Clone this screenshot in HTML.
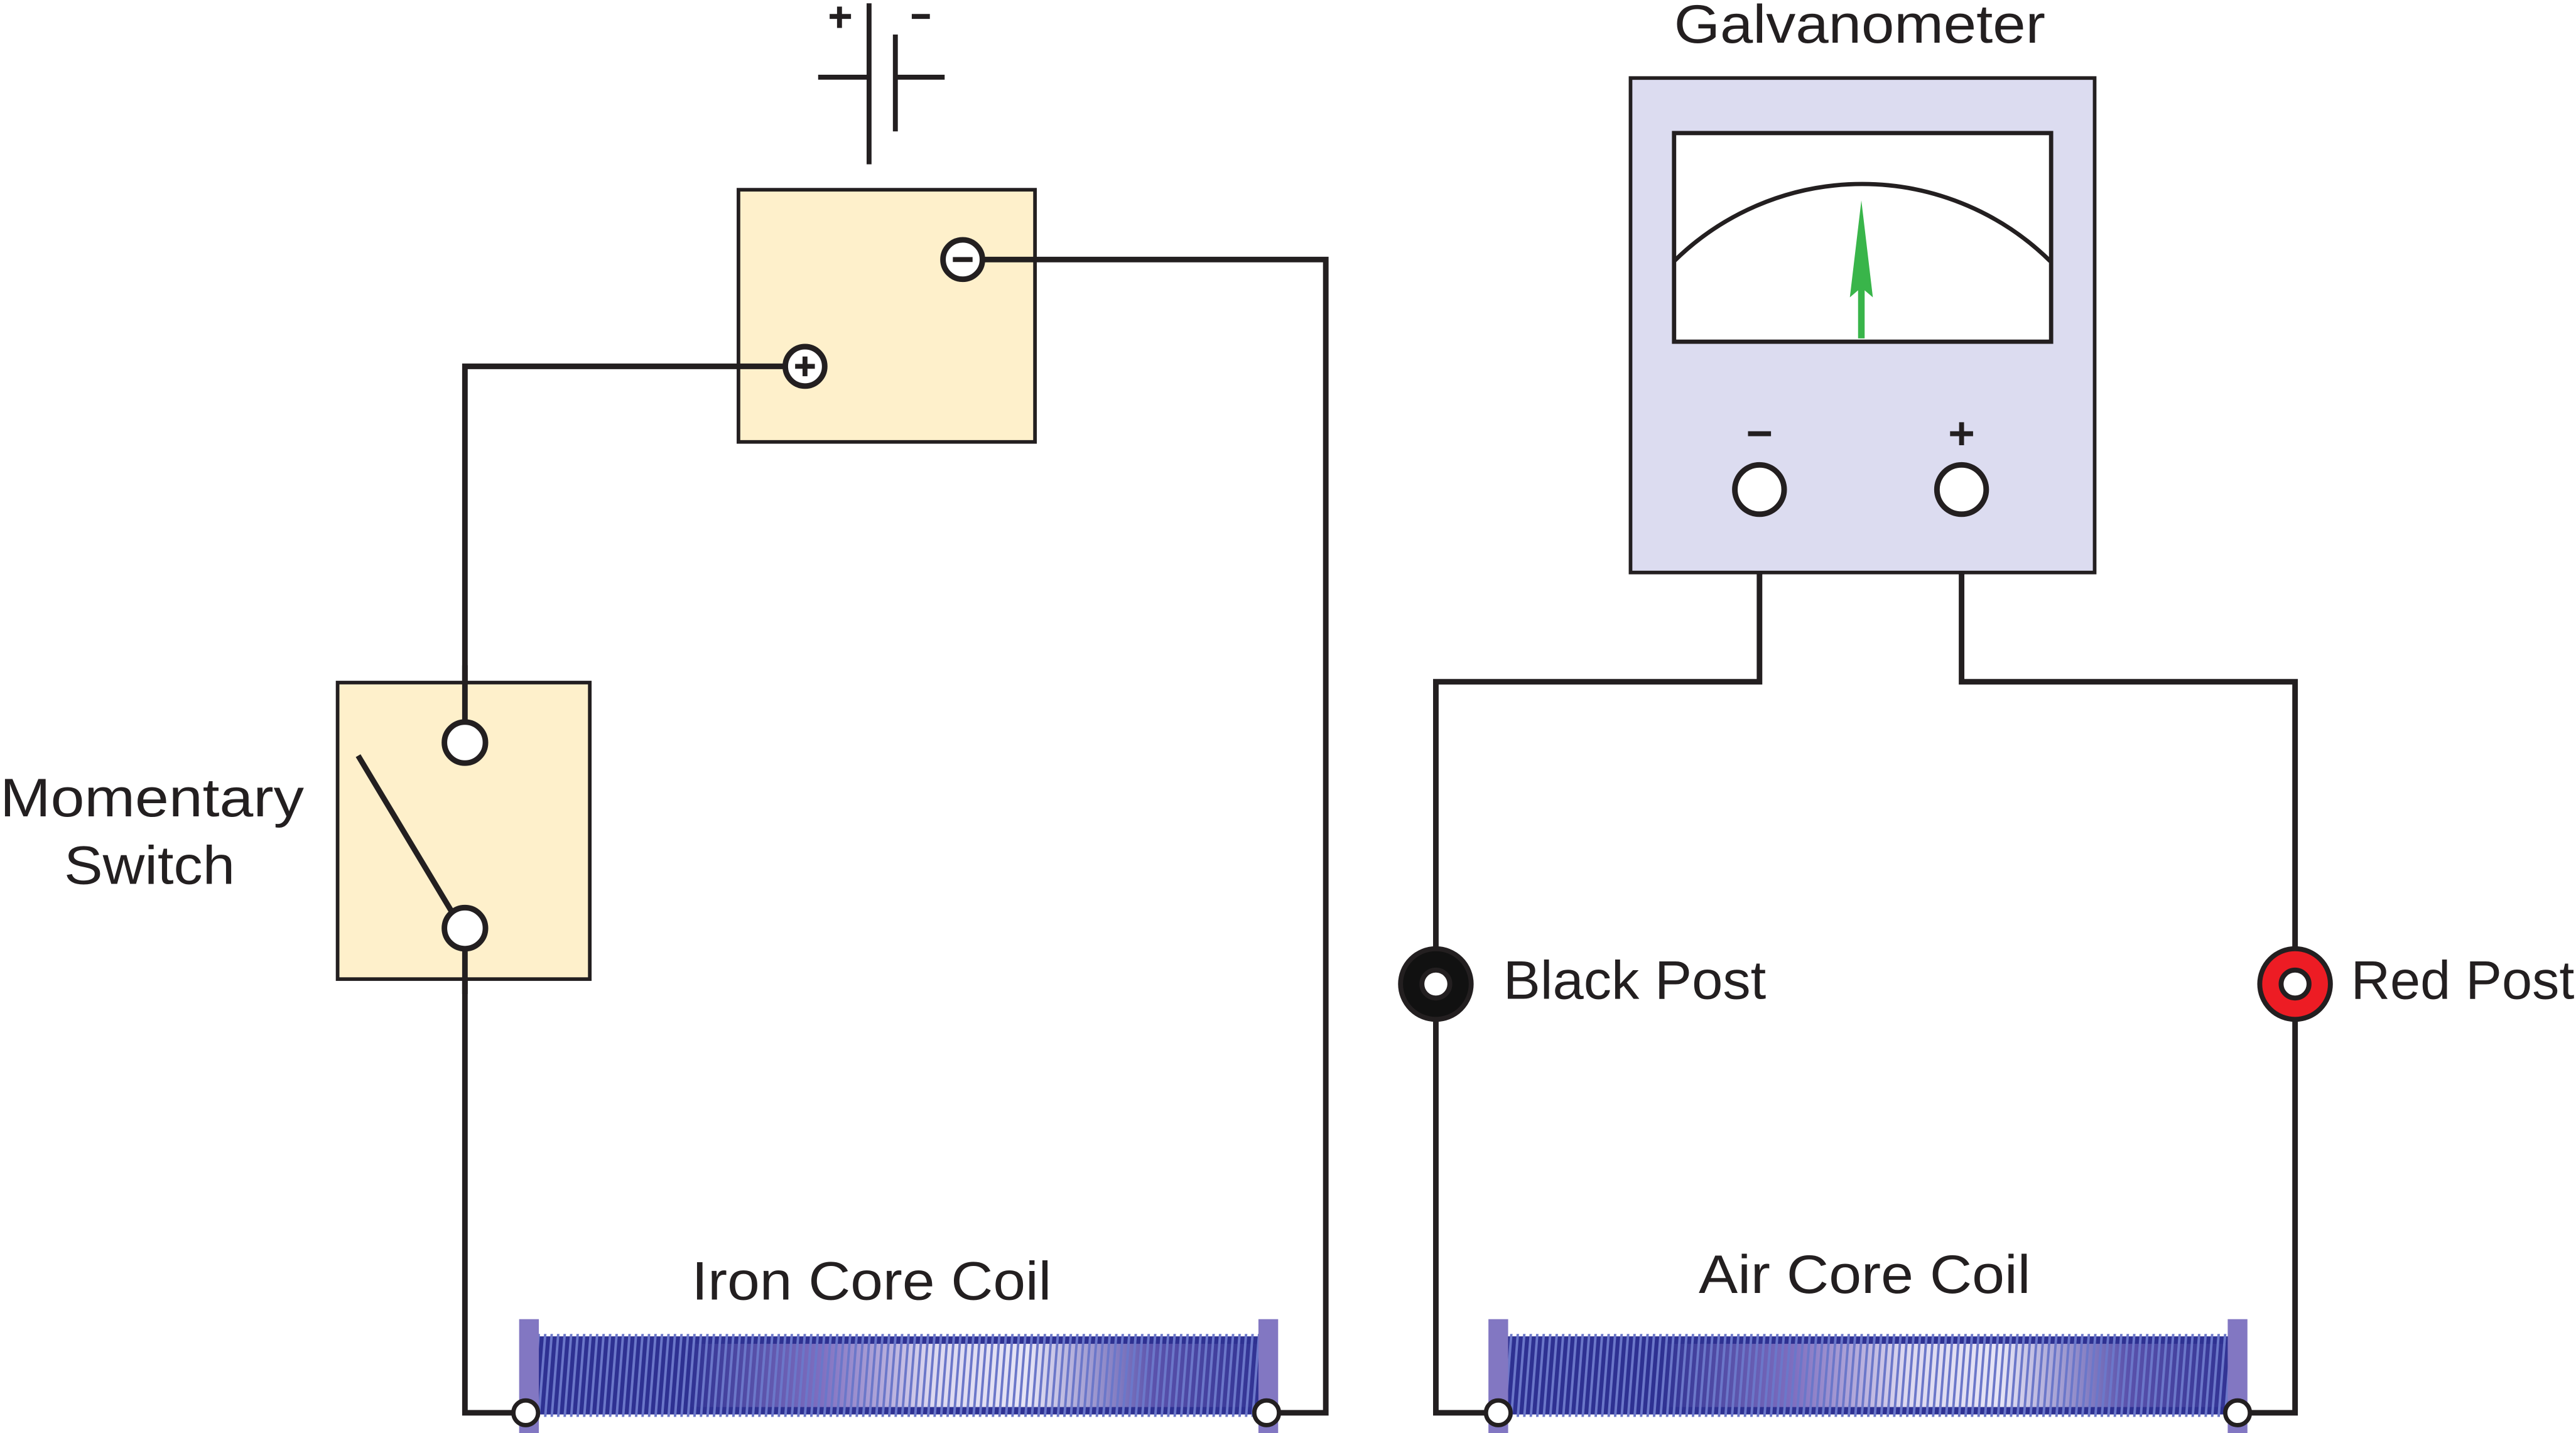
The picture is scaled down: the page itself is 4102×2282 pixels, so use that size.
<!DOCTYPE html>
<html><head><meta charset="utf-8"><style>
html,body{margin:0;padding:0;background:#fff;}
svg{display:block;}
text{font-family:"Liberation Sans",sans-serif;fill:#231f20;}
</style></head><body>
<svg width="4102" height="2282" viewBox="0 0 1568 872.3" xmlns="http://www.w3.org/2000/svg">
<defs>
<linearGradient id="cg" x1="0" x2="1" y1="0" y2="0">
<stop offset="0" stop-color="#2e3192"/>
<stop offset="0.22" stop-color="#2e3192"/>
<stop offset="0.4" stop-color="#7f6fc0"/>
<stop offset="0.55" stop-color="#dcd8f0"/>
<stop offset="0.68" stop-color="#e6e4f6"/>
<stop offset="0.85" stop-color="#5a52ac"/>
<stop offset="1" stop-color="#2e3192"/>
</linearGradient>
<pattern id="st" width="3.95" height="60" patternUnits="userSpaceOnUse" patternTransform="skewX(-4.5)">
<rect x="0" y="0" width="1.5" height="60" fill="#6b77c9"/>
</pattern>
<g id="coil">
<rect x="0" y="813.5" width="450" height="47.5" fill="url(#cg)"/>
<rect x="0" y="813.5" width="450" height="4.5" fill="#2e3192"/>
<rect x="0" y="856.5" width="450" height="4.5" fill="#2e3192"/>
<rect x="0" y="812" width="450" height="50.5" fill="url(#st)"/>
</g>
</defs>

<g stroke="#231f20" stroke-width="3.4" fill="none">
<polyline points="490,223 283,223 283,452"/>
<polyline points="283,565 283,860 320,860"/>
<polyline points="586,158 807,158 807,860 771,860"/>
<polyline points="1071,348 1071,415 874,415 874,860 912,860"/>
<polyline points="1194,348 1194,415 1397,415 1397,860 1362,860"/>
<line x1="529" y1="2" x2="529" y2="100" stroke-width="3"/>
<line x1="545" y1="21" x2="545" y2="80" stroke-width="3"/>
<line x1="498" y1="47" x2="529" y2="47" stroke-width="3"/>
<line x1="545" y1="47" x2="575" y2="47" stroke-width="3"/>
<line x1="505" y1="10" x2="518" y2="10" stroke-width="3"/>
<line x1="511" y1="4" x2="511" y2="17" stroke-width="3"/>
<line x1="555" y1="10" x2="566" y2="10" stroke-width="3"/>
</g>

<rect x="449.5" y="115.5" width="180.5" height="153.5" fill="#fef0cb" stroke="#231f20" stroke-width="2.2"/>
<line x1="490" y1="223" x2="449" y2="223" stroke="#231f20" stroke-width="3.4"/>
<line x1="586" y1="158" x2="630" y2="158" stroke="#231f20" stroke-width="3.4"/>
<circle cx="586" cy="158" r="12" fill="#fff" stroke="#231f20" stroke-width="3.4"/>
<line x1="580" y1="158" x2="592" y2="158" stroke="#231f20" stroke-width="3"/>
<circle cx="490" cy="223" r="12" fill="#fff" stroke="#231f20" stroke-width="3.4"/>
<line x1="484" y1="223" x2="496" y2="223" stroke="#231f20" stroke-width="3"/>
<line x1="490" y1="217" x2="490" y2="229" stroke="#231f20" stroke-width="3"/>

<rect x="205.5" y="415.5" width="153.5" height="180.5" fill="#fef0cb" stroke="#231f20" stroke-width="2.2"/>
<line x1="283" y1="405" x2="283" y2="452" stroke="#231f20" stroke-width="3.4"/>
<line x1="283" y1="565" x2="283" y2="605" stroke="#231f20" stroke-width="3.4"/>
<line x1="218" y1="460" x2="275" y2="555" stroke="#231f20" stroke-width="3.4"/>
<circle cx="283" cy="452" r="12.5" fill="#fff" stroke="#231f20" stroke-width="3.4"/>
<circle cx="283" cy="565" r="12.5" fill="#fff" stroke="#231f20" stroke-width="3.4"/>

<rect x="992.5" y="47.5" width="282.5" height="301" fill="#dcdcf0" stroke="#231f20" stroke-width="2.2"/>
<rect x="1019" y="81" width="229.5" height="127" fill="#fff" stroke="#231f20" stroke-width="2.6"/>
<path d="M1019,159 A163,163 0 0 1 1248,159" fill="none" stroke="#231f20" stroke-width="2.6"/>
<line x1="1133" y1="206" x2="1133" y2="170" stroke="#39b54a" stroke-width="4"/>
<polygon points="1133,122 1126,181 1133,175 1140,181" fill="#39b54a"/>
<line x1="1064" y1="264" x2="1078" y2="264" stroke="#231f20" stroke-width="3"/>
<line x1="1187" y1="264" x2="1201" y2="264" stroke="#231f20" stroke-width="3"/>
<line x1="1194" y1="257" x2="1194" y2="271" stroke="#231f20" stroke-width="3"/>
<circle cx="1071" cy="298" r="15" fill="#fff" stroke="#231f20" stroke-width="3.4"/>
<circle cx="1194" cy="298" r="15" fill="#fff" stroke="#231f20" stroke-width="3.4"/>

<circle cx="874" cy="599" r="21.5" fill="#111" stroke="#231f20" stroke-width="3"/>
<circle cx="874" cy="599" r="8.5" fill="#fff" stroke="#231f20" stroke-width="3"/>
<circle cx="1397" cy="599" r="21.5" fill="#ed1c24" stroke="#231f20" stroke-width="3"/>
<circle cx="1397" cy="599" r="8.5" fill="#fff" stroke="#231f20" stroke-width="3"/>

<use href="#coil" transform="translate(320,0)"/>
<rect x="316" y="803" width="12" height="69.3" fill="#8277c2"/>
<rect x="766" y="803" width="12" height="69.3" fill="#8277c2"/>
<use href="#coil" transform="translate(912,0)"/>
<rect x="906" y="803" width="12" height="69.3" fill="#8277c2"/>
<rect x="1356" y="803" width="12" height="69.3" fill="#8277c2"/>

<circle cx="320" cy="860" r="7.5" fill="#fff" stroke="#231f20" stroke-width="2.6"/>
<circle cx="771" cy="860" r="7.5" fill="#fff" stroke="#231f20" stroke-width="2.6"/>
<circle cx="912" cy="860" r="7.5" fill="#fff" stroke="#231f20" stroke-width="2.6"/>
<circle cx="1362" cy="860" r="7.5" fill="#fff" stroke="#231f20" stroke-width="2.6"/>

<text x="1019" y="26" font-size="33" textLength="226" lengthAdjust="spacingAndGlyphs">Galvanometer</text>
<text x="0" y="497" font-size="33" textLength="185" lengthAdjust="spacingAndGlyphs">Momentary</text>
<text x="39" y="538" font-size="33" textLength="104" lengthAdjust="spacingAndGlyphs">Switch</text>
<text x="421" y="791" font-size="33" textLength="219" lengthAdjust="spacingAndGlyphs">Iron Core Coil</text>
<text x="1034" y="787" font-size="33" textLength="202" lengthAdjust="spacingAndGlyphs">Air Core Coil</text>
<text x="915" y="608" font-size="33" textLength="160" lengthAdjust="spacingAndGlyphs">Black Post</text>
<text x="1431" y="608" font-size="33" textLength="136" lengthAdjust="spacingAndGlyphs">Red Post</text>
</svg>
</body></html>
